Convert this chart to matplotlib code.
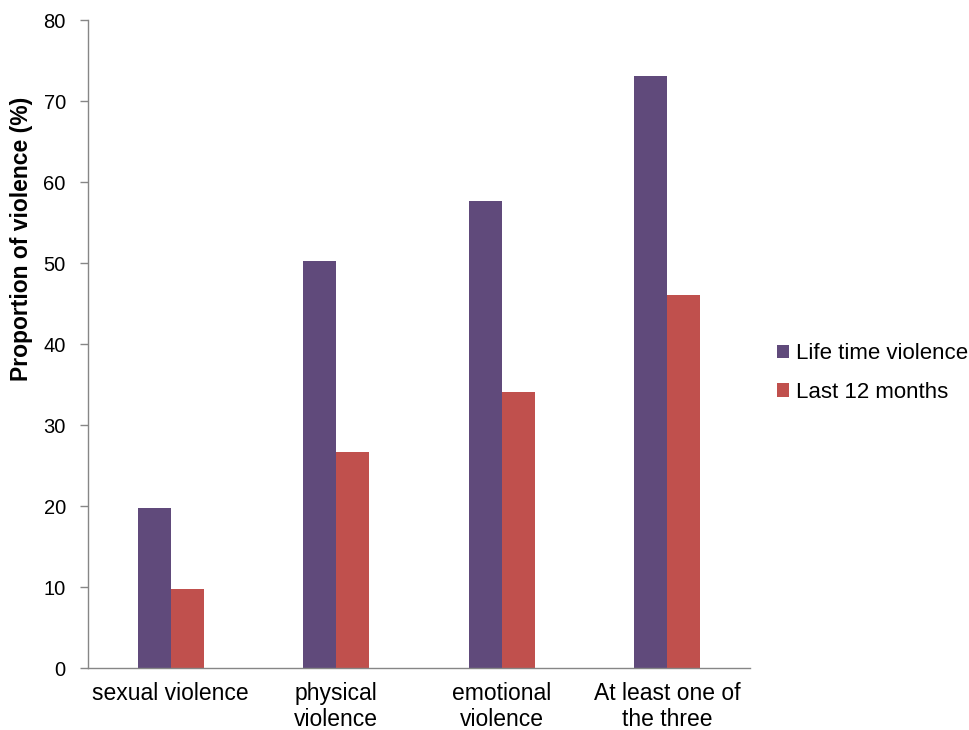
import matplotlib.pyplot as plt
import numpy as np

plt.rcParams['font.family'] = ['Liberation Sans', 'DejaVu Sans']

categories = ['sexual violence', 'physical\nviolence', 'emotional\nviolence', 'At least one of\nthe three']
lifetime = [19.8, 50.3, 57.7, 73.1]
last12 = [9.7, 26.7, 34.1, 46.1]
series_names = ['Life time violence', 'Last 12 months']

purple = '#604A7B'
red = '#C0504D'
grey = '#868686'

fig = plt.figure(figsize=(9.7, 7.3), dpi=100)
ax = fig.add_axes([0.0907, 0.0849, 0.6825, 0.8877])

x = np.arange(len(categories))
w = 0.2
ax.bar(x - w/2, lifetime, w, color=purple, label=series_names[0])
ax.bar(x + w/2, last12, w, color=red, label=series_names[1])

ax.set_xlim(-0.5, len(categories) - 0.5)
ax.set_ylim(0, 80)
ax.set_yticks(np.arange(0, 81, 10))
ax.set_xticks(x)
ax.set_xticklabels(categories, fontsize=16.5, linespacing=1.15)
ax.tick_params(axis='x', length=0, pad=10)
ax.tick_params(axis='y', labelsize=14.5, length=6, color=grey, width=1, pad=10)
ax.set_ylabel('Proportion of violence (%)', fontsize=16.5, fontweight='bold')
ax.yaxis.set_label_coords(-0.083, 0.662)

for s in ['top', 'right']:
    ax.spines[s].set_visible(False)
for s in ['left', 'bottom']:
    ax.spines[s].set_color(grey)
    ax.spines[s].set_linewidth(1)

ax.legend(loc='center left', bbox_to_anchor=(0.801, 0.489), bbox_transform=fig.transFigure,
          frameon=False, fontsize=16, handlelength=0.55, handleheight=0.55,
          handletextpad=0.3, labelspacing=0.78, borderaxespad=0, borderpad=0)

fig.savefig('out.png', dpi=100)
